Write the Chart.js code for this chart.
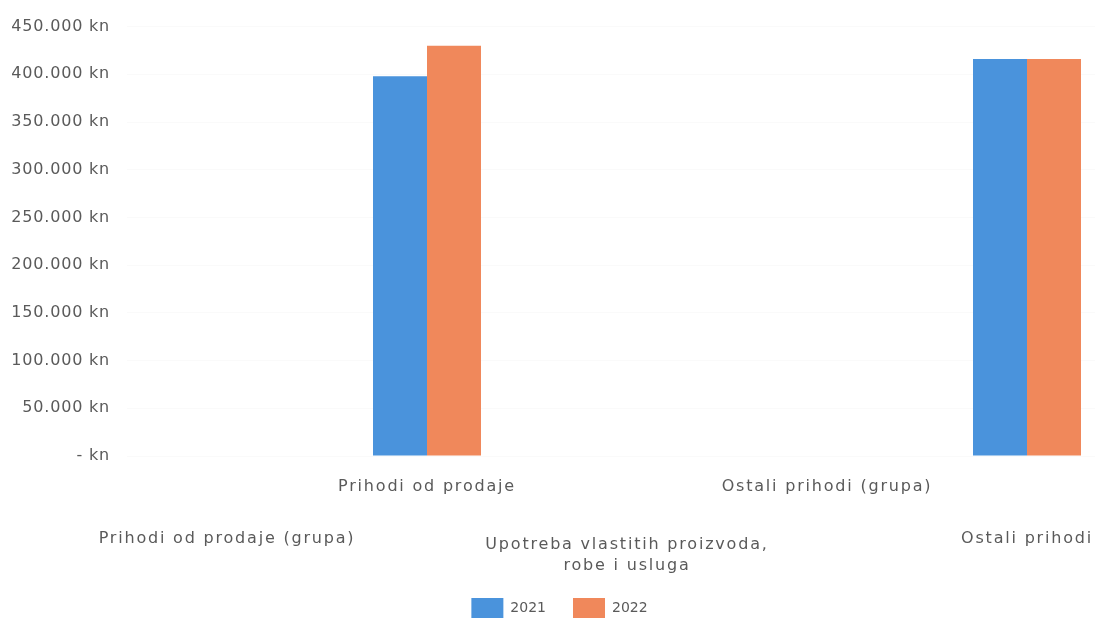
<!DOCTYPE html>
<html>
<head>
<meta charset="utf-8">
<script src="https://cdn.jsdelivr.net/npm/chart.js@4.4.1/dist/chart.umd.min.js"></script>
<style>
  html, body { margin: 0; padding: 0; background: #fff; overflow: hidden; }
  #wrap { width: 1095px; height: 620px; position: relative; overflow: hidden; }
  #c { position: absolute; left: 0; top: 0; }
</style>
</head>
<body>
<div id="wrap"><canvas id="c" width="1127" height="620"></canvas></div>
<script>
// Category names
const categories = [
  'Prihodi od prodaje (grupa)',
  'Prihodi od prodaje',
  ['Upotreba vlastitih proizvoda,', 'robe i usluga'],
  'Ostali prihodi (grupa)',
  'Ostali prihodi'
];
const seriesNames = ['2021', '2022'];
const data2021 = [null, 398000, null, null, 416000];
const data2022 = [null, 430000, null, null, 416000];
const yTicks = [0, 50000, 100000, 150000, 200000, 250000, 300000, 350000, 400000, 450000];

const BLUE = '#4a93dc';
const ORANGE = '#f0885b';
const TEXT = '#5a5a5a';

function fmt(v) {
  if (v === 0) return '- kn';
  return (v / 1000) + '.000 kn';
}

// Staggered category labels: even-indexed labels sit on the lower row.
function xLabel(value, index) {
  const lbl = categories[index];
  if (index % 2 === 1) return [lbl];
  const blank = n => Array(n).fill('');
  if (Array.isArray(lbl)) {
    return blank(11).concat([lbl[0]], blank(3), [lbl[1]]);
  }
  return blank(10).concat([lbl]);
}

function spaceLabels(scale, spacing) {
  if (!scale || scale._spaced) return;
  const orig = scale.drawLabels;
  scale.drawLabels = function (area) {
    const ctx = this.ctx;
    const prev = ctx.letterSpacing;
    ctx.letterSpacing = spacing;
    orig.call(this, area);
    ctx.letterSpacing = prev || '0px';
  };
  scale._spaced = true;
}

const tweaks = {
  id: 'tweaks',
  beforeLayout(chart) {
    const lg = chart.legend;
    if (lg && !lg._fixed) {
      const origFit = lg.fit;
      lg.fit = function () { origFit.call(this); this.height = 40; };
      lg._fixed = true;
    }
  },
  afterLayout(chart) {
    const lg = chart.legend;
    if (lg) {
      const dy = 608 - (lg.top + lg.options.labels.padding + 10);
      lg.top += dy;
      lg.bottom = chart.height + 20;
      lg.left -= 4; lg.right -= 4;
    }
  },
  beforeDraw(chart) {
    spaceLabels(chart.scales.x, '1.8px');
    spaceLabels(chart.scales.y, '0.8px');
  }
};

new Chart(document.getElementById('c'), {
  type: 'bar',
  data: {
    labels: categories,
    datasets: [
      { label: seriesNames[0], data: data2021, backgroundColor: BLUE, borderWidth: 0,
        categoryPercentage: 0.54, barPercentage: 1.0 },
      { label: seriesNames[1], data: data2022, backgroundColor: ORANGE, borderWidth: 0,
        categoryPercentage: 0.54, barPercentage: 1.0 }
    ]
  },
  options: {
    responsive: false,
    animation: false,
    layout: { padding: { left: 0, right: 0, top: 26, bottom: 0 } },
    plugins: {
      legend: {
        position: 'bottom',
        labels: {
          color: TEXT,
          font: { family: 'DejaVu Sans', size: 14 },
          boxWidth: 32, boxHeight: 20, padding: 27
        }
      },
      tooltip: { enabled: false }
    },
    scales: {
      x: {
        afterFit(scale) { scale.height = 124; },
        grid: { display: false, drawTicks: false },
        border: { display: false },
        ticks: {
          color: TEXT,
          font: { family: 'DejaVu Sans', size: 16, lineHeight: 0.328125 },
          maxRotation: 0, minRotation: 0, autoSkip: false, padding: 28,
          callback: xLabel
        }
      },
      y: {
        min: 0, max: 450000,
        afterBuildTicks(axis) { axis.ticks = yTicks.map(v => ({ value: v })); },
        afterFit(scale) { scale.width = 127; },
        grid: { color: 'rgba(0,0,0,0.02)', drawTicks: false },
        border: { display: false },
        ticks: {
          color: TEXT,
          font: { family: 'DejaVu Sans', size: 16 },
          padding: 17,
          callback: fmt
        }
      }
    }
  },
  plugins: [tweaks]
});
</script>
</body>
</html>
